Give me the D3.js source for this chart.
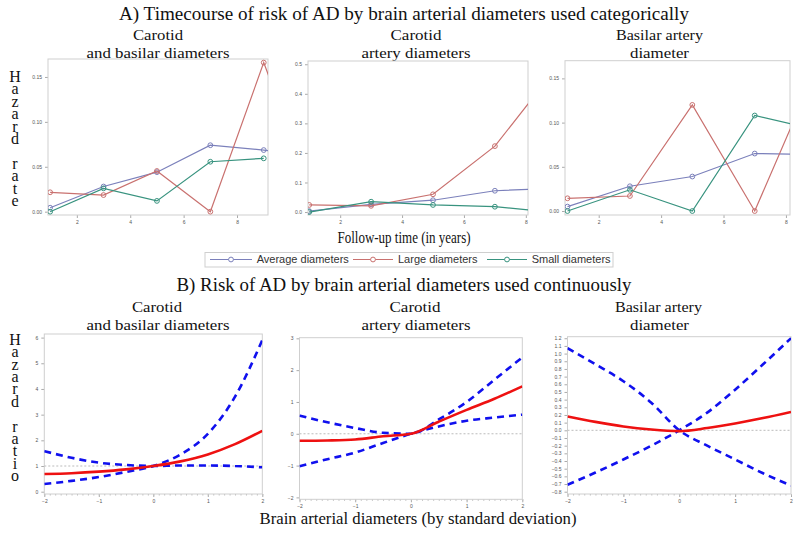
<!DOCTYPE html>
<html><head><meta charset="utf-8">
<script src="https://cdn.jsdelivr.net/npm/d3@7"></script>
<style>body{margin:0;background:#fff} svg{display:block}</style>
</head><body>
<svg id="c" width="800" height="534"></svg>
<script>
// ---------- DATA ----------
// Part A: hazard rate by follow-up year
const yearsA1 = [1, 3, 5, 7, 9, 10];
const avgA1   = [0.0044, 0.028, 0.044, 0.074, 0.0686, 0.064];
const largeA1 = [0.0216, 0.0185, 0.0453, 0.0, 0.166, 0.086];
const smallA1 = [0.0, 0.026, 0.012, 0.0556, 0.0594, null];

const yearsA2 = [1, 3, 5, 7, 9];
const avgA2   = [0.003, 0.026, 0.040, 0.072, 0.081];
const largeA2 = [0.024, 0.021, 0.060, 0.223, 0.49];
const smallA2 = [0.0, 0.035, 0.024, 0.018, -0.002];

const yearsA3 = [1, 3, 5, 7, 9];
const avgA3   = [0.005, 0.028, 0.039, 0.065, 0.064];
const largeA3 = [0.0144, 0.017, 0.12, 0.0, 0.163];
const smallA3 = [0.0, 0.024, 0.0, 0.108, 0.092];

const seriesNames = ["Average diameters", "Large diameters", "Small diameters"];

// Part B: hazard ratio by SD of diameter
const sdB = [-2, -1.5, -1, -0.5, 0, 0.5, 1, 1.5, 2];
const hrB1  = [0.69, 0.72, 0.78, 0.87, 1.0, 1.18, 1.45, 1.85, 2.37];
const ciAB1 = [1.58, 1.32, 1.13, 1.04, 1.0, 1.02, 1.02, 1.0, 0.95];
const ciBB1 = [0.30, 0.42, 0.57, 0.77, 1.0, 1.45, 2.25, 3.7, 5.9];
const refB1 = 1;

const hrB2  = [-0.22, -0.21, -0.18, -0.08, 0, 0.38, 0.75, 1.1, 1.49];
const ciAB2 = [0.57, 0.36, 0.18, 0.03, 0, 0.45, 1.0, 1.7, 2.4];
const ciBB2 = [-1.02, -0.80, -0.59, -0.29, 0, 0.23, 0.41, 0.51, 0.6];
const refB2 = 0;

const hrB3  = [0.18, 0.11, 0.05, 0.01, -0.01, 0.03, 0.09, 0.16, 0.24];
const ciAB3 = [1.07, 0.86, 0.64, 0.36, 0.0, -0.2, -0.38, -0.56, -0.72];
const ciBB3 = [-0.71, -0.55, -0.38, -0.2, 0, 0.23, 0.53, 0.86, 1.2];
const refB3 = 0;

const ticksA1y = [0, 0.05, 0.10, 0.15];
const ticksA2y = [0, 0.1, 0.2, 0.3, 0.4, 0.5];
const ticksAx  = [2, 4, 6, 8];
const ticksB1y = [0, 1, 2, 3, 4, 5, 6];
const ticksB2y = [-2, -1, 0, 1, 2, 3];
const ticksB3y = d3.range(-8, 13).map(v => v / 10);
const ticksBx  = [-2, -1, 0, 1, 2];
const minorBx  = d3.range(-20, 21).map(v => v / 10);

const subtitles = [["Carotid", "and basilar diameters"], ["Carotid", "artery diameters"], ["Basilar artery", "diameter"]];

// ---------- STYLE ----------
const serif = "'Liberation Serif','Times New Roman',serif";
const sans = "'Liberation Sans',Arial,sans-serif";
const colors = ["#7b80bb", "#c9716f", "#38937f"];

const svg = d3.select('#c');

function text(x, y, s, size, opts = {}) {
  const t = svg.append('text').attr('x', x).attr('y', y).text(s)
    .attr('font-family', opts.family || serif).attr('font-size', size)
    .attr('fill', opts.fill || '#111').attr('text-anchor', opts.anchor || 'middle');
  if (opts.len) t.attr('textLength', opts.len).attr('lengthAdjust', 'spacingAndGlyphs');
  return t;
}

// vertical label with upright stacked letters, as one text run
function stacked(x, yTop, s, len, size) {
  svg.append('text').attr('x', x).attr('y', yTop).text(s)
    .attr('font-family', serif).attr('font-size', size).attr('fill', '#111')
    .style('writing-mode', 'vertical-rl').style('text-orientation', 'upright')
    .attr('textLength', len).attr('lengthAdjust', 'spacing');
}

function frame(o) {
  const x = d3.scaleLinear().domain(o.xdom).range([o.x0, o.x1]);
  const y = d3.scaleLinear().domain(o.ydom).range([o.y1, o.y0]);
  const g = svg.append('g');
  const clipId = 'clip' + o.id;
  svg.append('clipPath').attr('id', clipId).append('rect')
    .attr('x', o.x0).attr('y', o.y0).attr('width', o.x1 - o.x0).attr('height', o.y1 - o.y0);
  const ax = g.append('g').attr('transform', `translate(0,${o.y1})`)
    .call(d3.axisBottom(x).tickValues(o.xticks).tickSize(3).tickPadding(2).tickFormat(o.xfmt || d3.format('d')));
  const ay = g.append('g').attr('transform', `translate(${o.x0},0)`)
    .call(d3.axisLeft(y).tickValues(o.yticks).tickSize(3).tickPadding(3).tickFormat(o.yfmt));
  [ax, ay].forEach(a => {
    a.select('.domain').remove();
    a.selectAll('line').attr('stroke', '#aaa');
    a.selectAll('text').attr('font-family', sans).attr('font-size', 5).attr('fill', '#555');
  });
  if (o.minor) {
    const m = g.append('g').attr('transform', `translate(0,${o.y1})`)
      .call(d3.axisBottom(x).tickValues(minorBx).tickSize(1.5).tickFormat(''));
    m.select('.domain').remove();
    m.selectAll('text').remove();
    m.selectAll('line').attr('stroke', '#bbb');
  }
  g.append('rect').attr('x', o.x0).attr('y', o.y0).attr('width', o.x1 - o.x0).attr('height', o.y1 - o.y0)
    .attr('fill', 'none').attr('stroke', '#cfcfcf').attr('stroke-width', 1);
  const plot = svg.append('g').attr('clip-path', `url(#${clipId})`);
  return { x, y, plot };
}

function panelA(o, xs, series) {
  const { x, y, plot } = frame(o);
  series.forEach((vals, i) => {
    const pts = xs.map((d, j) => [d, vals[j]]).filter(p => p[1] !== null);
    plot.append('path').datum(pts)
      .attr('d', d3.line().x(p => x(p[0])).y(p => y(p[1])))
      .attr('fill', 'none').attr('stroke', colors[i]).attr('stroke-width', 1.2);
    plot.selectAll(null).data(pts).enter().append('circle')
      .attr('cx', p => x(p[0])).attr('cy', p => y(p[1])).attr('r', 2.4)
      .attr('fill', 'none').attr('stroke', colors[i]).attr('stroke-width', 1);
  });
}

function panelB(o, hr, ciA, ciB, ref) {
  const { x, y, plot } = frame(o);
  plot.append('line').attr('x1', o.x0).attr('x2', o.x1).attr('y1', y(ref)).attr('y2', y(ref))
    .attr('stroke', '#aaa').attr('stroke-width', 0.8).attr('stroke-dasharray', '2,2');
  const line = d3.line().x((d, j) => x(sdB[j])).y(d => y(d)).curve(d3.curveMonotoneX);
  [ciA, ciB].forEach(c => plot.append('path').datum(c).attr('d', line)
    .attr('fill', 'none').attr('stroke', '#1010ee').attr('stroke-width', 2.6).attr('stroke-dasharray', '7,5'));
  plot.append('path').datum(hr).attr('d', line)
    .attr('fill', 'none').attr('stroke', '#ee1111').attr('stroke-width', 2.6);
}

// ---------- TITLES ----------
text(404, 20, "A) Timecourse of risk of AD by brain arterial diameters used categorically", 19, { len: 570 });
text(404, 291, "B) Risk of AD by brain arterial diameters used continuously", 19, { len: 455 });
text(404, 243, "Follow-up time (in years)", 16, { len: 133 });
text(418, 523.5, "Brain arterial diameters (by standard deviation)", 16, { len: 317 });

const subX = [158, 416, 659.5];
const subLen = [[50, 143], [51, 109], [87, 59]];
subtitles.forEach((s, i) => {
  text(subX[i], 39.5, s[0], 15.5, { len: subLen[i][0] });
  text(subX[i], 57.5, s[1], 15.5, { len: subLen[i][1] });
  text(subX[i] - 1, 312, s[0], 15.5, { len: subLen[i][0] });
  text(subX[i], 330, s[1], 15.5, { len: subLen[i][1] });
});

stacked(15, 68, "Hazard rate", 141, 16);
stacked(15, 331, "Hazard ratio", 153, 16);

// ---------- PANELS A ----------
const f2 = d3.format('.2f'), f1 = d3.format('.1f');
panelA({ id: 'a1', x0: 48, x1: 268, y0: 59, y1: 215, xdom: [0.92, 9.16], ydom: [-0.0037, 0.170],
  xticks: ticksAx, yticks: ticksA1y, yfmt: f2 }, yearsA1, [avgA1, largeA1, smallA1]);
panelA({ id: 'a2', x0: 308, x1: 528, y0: 61, y1: 215, xdom: [0.96, 8.07], ydom: [-0.01, 0.511],
  xticks: ticksAx, yticks: ticksA2y, yfmt: f1 }, yearsA2, [avgA2, largeA2, smallA2]);
panelA({ id: 'a3', x0: 565, x1: 790, y0: 60.7, y1: 215, xdom: [0.92, 8.13], ydom: [-0.0045, 0.170],
  xticks: ticksAx, yticks: ticksA1y, yfmt: f2 }, yearsA3, [avgA3, largeA3, smallA3]);

// ---------- LEGEND ----------
svg.append('rect').attr('x', 205).attr('y', 252.5).attr('width', 408).attr('height', 14.5)
  .attr('fill', '#fff').attr('stroke', '#cfcfcf');
const legX = [[210, 252, 256.7], [353, 393, 398], [487, 527, 531.7]];
seriesNames.forEach((n, i) => {
  const [a, b, t] = legX[i];
  svg.append('line').attr('x1', a).attr('x2', b).attr('y1', 259.5).attr('y2', 259.5)
    .attr('stroke', colors[i]).attr('stroke-width', 1.2);
  svg.append('circle').attr('cx', (a + b) / 2).attr('cy', 259.5).attr('r', 2.4)
    .attr('fill', '#fff').attr('stroke', colors[i]);
  text(t, 263.3, n, 11, { family: sans, anchor: 'start', fill: '#333' });
});

// ---------- PANELS B ----------
panelB({ id: 'b1', x0: 44.3, x1: 262.3, y0: 334, y1: 494, xdom: [-2, 2], ydom: [-0.09, 6.14],
  xticks: ticksBx, yticks: ticksB1y, yfmt: d3.format('d'), minor: true }, hrB1, ciAB1, ciBB1, refB1);
panelB({ id: 'b2', x0: 299.5, x1: 522.3, y0: 337.7, y1: 499.3, xdom: [-2, 2], ydom: [-2.06, 3.02],
  xticks: ticksBx, yticks: ticksB2y, yfmt: d3.format('d'), minor: true }, hrB2, ciAB2, ciBB2, refB2);
panelB({ id: 'b3', x0: 567.5, x1: 791, y0: 336.7, y1: 494, xdom: [-2, 2], ydom: [-0.83, 1.22],
  xticks: ticksBx, yticks: ticksB3y, yfmt: f1, minor: true }, hrB3, ciAB3, ciBB3, refB3);
</script>
</body></html>
